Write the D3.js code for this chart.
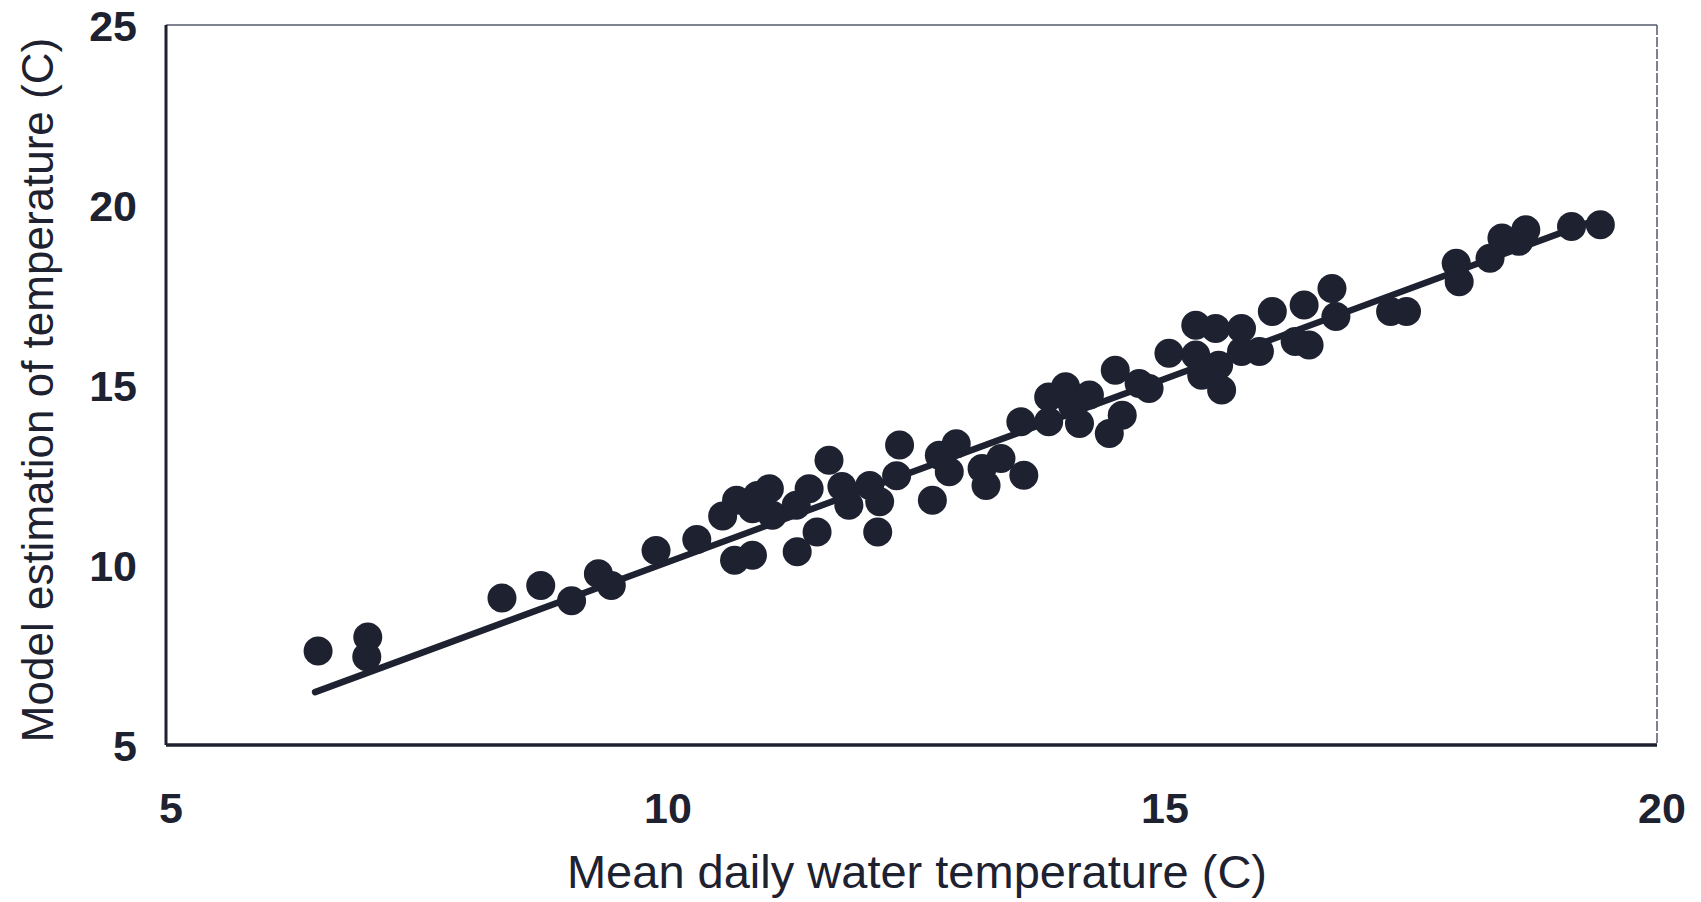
<!DOCTYPE html>
<meta charset="utf-8">
<style>
  body {
    margin: 0;
    background: #fff;
  }

  .tick-label {
    font-family: "Liberation Sans", Arial, sans-serif;
    font-weight: bold;
    font-size: 43px;
    fill: #1d2130;
  }

  .axis-title {
    font-family: "Liberation Sans", Arial, sans-serif;
    fill: #1d2130;
  }
</style>

<svg width="1701" height="902"></svg>

<script src="https://d3js.org/d3.v7.min.js"></script>

<script>

  // Observed mean daily water temperature (C)
  var observed = [
    6.53, 7.03, 7.02, 8.38, 8.77, 9.08, 9.35, 9.48, 9.93, 10.34,
    10.60, 10.74, 10.72, 10.90, 11.07, 11.10, 10.90, 11.35, 11.67, 11.47,
    11.55, 11.80, 11.34, 12.08, 11.87, 12.18, 12.16, 12.38, 12.71, 12.78,
    12.95, 12.88, 13.25, 13.40, 13.21, 13.63, 13.60, 13.88, 14.05, 13.88,
    14.19, 14.12, 14.29, 14.49, 14.55, 14.62, 14.89, 15.09, 15.36, 15.36,
    15.56, 15.59, 15.62, 15.42, 15.82, 16.00, 15.82, 16.13, 16.36, 16.45,
    16.50, 16.73, 16.77, 17.32, 17.48, 17.98, 18.01, 18.32, 18.44, 18.61,
    18.68, 19.14, 19.43, 12.35, 10.95, 14.79
  ];

  // Model estimation of temperature (C)
  var modelled = [
    7.61, 8.00, 7.45, 9.08, 9.43, 9.01, 9.76, 9.43, 10.40, 10.71,
    11.36, 11.80, 10.13, 10.27, 12.12, 11.38, 11.56, 10.37, 12.91, 12.12,
    10.92, 12.18, 11.66, 12.21, 11.66, 11.76, 10.92, 13.33, 11.80, 13.05,
    13.37, 12.59, 12.21, 12.96, 12.68, 12.49, 13.98, 14.67, 14.95, 13.98,
    13.93, 14.44, 14.72, 13.65, 15.41, 14.16, 14.90, 15.88, 16.66, 15.83,
    16.57, 15.55, 14.86, 15.27, 16.57, 15.93, 15.93, 17.04, 16.21, 17.22,
    16.11, 17.68, 16.90, 17.04, 17.04, 18.38, 17.87, 18.52, 19.08, 18.99,
    19.31, 19.40, 19.45, 12.48, 11.93, 15.04
  ];

  // Fitted line end points
  var fitX = [6.5, 19.45];
  var fitY = [6.47, 19.65];

  var xTicks = [5, 10, 15, 20];
  var yTicks = [5, 10, 15, 20, 25];

  var svg = d3.select("svg");
  var ink = "#1d2130";

  var x = d3.scaleLinear()
    .domain([5, 20])
    .range([166, 1657]);

  var y = d3.scaleLinear()
    .domain([5, 25])
    .range([745, 25]);

  //
  // Frame: heavy left and bottom, light top and right
  //
  svg.append("line")
    .attr("x1", x(5)).attr("x2", x(20))
    .attr("y1", y(25)).attr("y2", y(25))
    .attr("stroke", "#55596a")
    .attr("stroke-width", 1.5);

  svg.append("line")
    .attr("x1", x(20)).attr("x2", x(20))
    .attr("y1", y(25)).attr("y2", y(5))
    .attr("stroke", "#55596a")
    .attr("stroke-width", 1.5)
    .attr("stroke-dasharray", "10,2");

  svg.append("line")
    .attr("x1", x(5)).attr("x2", x(5))
    .attr("y1", y(25)).attr("y2", y(5))
    .attr("stroke", ink)
    .attr("stroke-width", 3);

  svg.append("line")
    .attr("x1", x(5)).attr("x2", x(20))
    .attr("y1", y(5)).attr("y2", y(5))
    .attr("stroke", ink)
    .attr("stroke-width", 3.5);

  //
  // Tick labels
  //
  svg.append("g")
    .selectAll("text")
    .data(xTicks)
    .enter().append("text")
    .attr("class", "tick-label")
    .attr("x", (d) => x(d) + 5)
    .attr("y", 823)
    .attr("text-anchor", "middle")
    .text((d) => d);

  svg.append("g")
    .selectAll("text")
    .data(yTicks)
    .enter().append("text")
    .attr("class", "tick-label")
    .attr("x", 137)
    .attr("y", (d) => y(d) + 16)
    .attr("text-anchor", "end")
    .text((d) => d);

  //
  // Axis titles
  //
  svg.append("text")
    .attr("class", "axis-title")
    .attr("x", 917)
    .attr("y", 888)
    .attr("text-anchor", "middle")
    .attr("font-size", 47)
    .text("Mean daily water temperature (C)");

  svg.append("text")
    .attr("class", "axis-title")
    .attr("transform", "translate(53,390) rotate(-90)")
    .attr("text-anchor", "middle")
    .attr("font-size", 44)
    .text("Model estimation of temperature (C)");

  //
  // Fitted line and points
  //
  svg.append("line")
    .attr("x1", x(fitX[0])).attr("y1", y(fitY[0]))
    .attr("x2", x(fitX[1])).attr("y2", y(fitY[1]))
    .attr("stroke", ink)
    .attr("stroke-width", 6.5)
    .attr("stroke-linecap", "round");

  svg.append("g")
    .selectAll("circle")
    .data(observed)
    .enter().append("circle")
    .attr("cx", (d) => x(d))
    .attr("cy", (d, i) => y(modelled[i]))
    .attr("r", 14.5)
    .attr("fill", ink);

</script>
